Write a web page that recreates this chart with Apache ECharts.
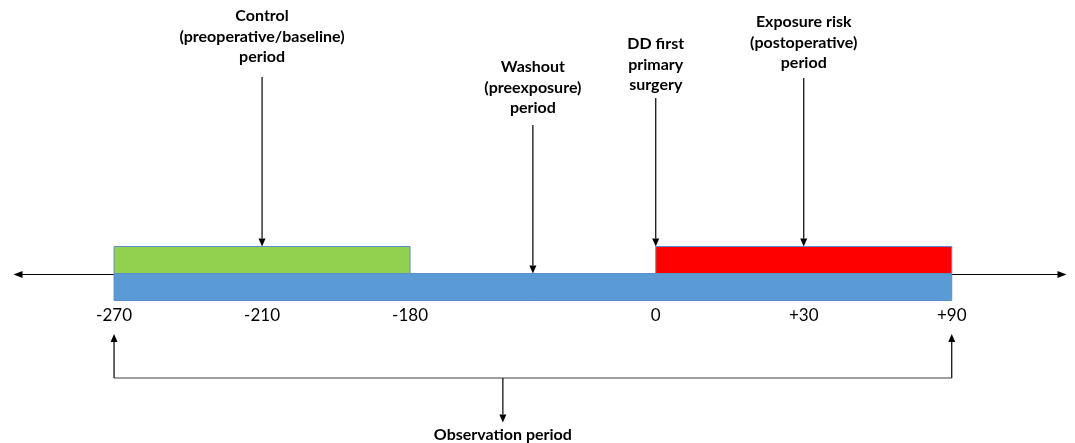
<!DOCTYPE html>
<html>
<head>
<meta charset="utf-8">
<script src="https://cdn.jsdelivr.net/npm/echarts@6/dist/echarts.min.js"></script>
<style>
  html, body { margin: 0; padding: 0; background: #fff; }
  #chart { width: 1075px; height: 443px; }
</style>
</head>
<body>
<div id="chart"></div>
<script>
// ---- Data ----
const tickDays = [-270, -210, -180, 0, 30, 90];
const tickLabels = ['-270', '-210', '-180', '0', '+30', '+90'];
// schematic (non-proportional) slot of each tick on the time line
const tickSlots = [0, 1, 2, 3.66, 4.66, 5.66];

const periodNames = ['Observation period', 'Control', 'Exposure risk'];
const periodStart = [-270, -270, 0];
const periodEnd = [90, -180, 90];
const periodRow = [0, 1, 1]; // 0 = on the time line, 1 = above it

const annotationTexts = [
  'Control\n(preoperative/baseline)\nperiod',
  'Washout\n(preexposure)\nperiod',
  'DD first\nprimary\nsurgery',
  'Exposure risk\n(postoperative)\nperiod'
];
const annotationDays = [-210, -90, 0, 30];
const annotationTargetRow = [1, 0, 1, 1];

const observationLabel = 'Observation period';
const observationLabelDay = -112;

// ---- Styles / layout ----
const periodColors = ['#5B9BD5', '#92D050', '#FF0000'];
const periodBorder = '#5B8FC9';
const annotationTextTop = [6, 57, 34, 12];
const annotationArrowTop = [77, 125, 98, 78];
const ROW_H = 27;
const FONT = 'Lato, "Open Sans", sans-serif';

function toSlot(day) {
  for (let i = 0; i < tickDays.length - 1; i++) {
    if (day <= tickDays[i + 1]) {
      const t = (day - tickDays[i]) / (tickDays[i + 1] - tickDays[i]);
      return tickSlots[i] + t * (tickSlots[i + 1] - tickSlots[i]);
    }
  }
  return tickSlots[tickSlots.length - 1];
}

function arrow(x1, y1, x2, y2, color) {
  const len = Math.hypot(x2 - x1, y2 - y1);
  const dx = (x2 - x1) / len, dy = (y2 - y1) / len;
  const nx = -dy, ny = dx;
  const hl = 8, hw = 3.5;
  const bx = x2 - dx * hl, by = y2 - dy * hl;
  return [
    { type: 'line', shape: { x1: x1, y1: y1, x2: bx, y2: by }, style: { stroke: color, lineWidth: 1.2 } },
    { type: 'polygon', shape: { points: [[x2, y2], [bx + nx * hw, by + ny * hw], [bx - nx * hw, by - ny * hw]] }, style: { fill: color } }
  ];
}

const chart = echarts.init(document.getElementById('chart'));

const option = {
  backgroundColor: '#ffffff',
  animation: false,
  grid: { left: 18, right: 13, top: 0, bottom: 168.5 },
  xAxis: {
    type: 'value',
    min: -0.649,
    max: 6.405,
    splitLine: { show: false },
    axisLine: {
      show: true,
      onZero: false,
      symbol: ['triangle', 'triangle'],
      symbolSize: [7, 9],
      lineStyle: { color: '#000', width: 1 }
    },
    axisTick: { show: false },
    axisLabel: {
      customValues: tickSlots,
      margin: 33,
      color: '#000',
      fontSize: 17,
      fontFamily: FONT,
      formatter: function (v) {
        const i = tickSlots.findIndex(s => Math.abs(s - v) < 1e-6);
        return i >= 0 ? tickLabels[i] : '';
      }
    }
  },
  yAxis: { type: 'value', min: 0, max: 10, show: false },
  series: [
    {
      type: 'custom',
      name: 'Periods',
      clip: false,
      z: 3,
      data: periodStart.map((s, i) => [toSlot(s), toSlot(periodEnd[i]), i]),
      encode: { x: [0, 1] },
      renderItem: function (params, api) {
        const i = api.value(2);
        const p0 = api.coord([api.value(0), 0]);
        const p1 = api.coord([api.value(1), 0]);
        const base = p0[1];
        const row = periodRow[i];
        const top = row === 0 ? base - 1 : base - 1 - ROW_H;
        return {
          type: 'rect',
          shape: { x: p0[0], y: top, width: p1[0] - p0[0], height: ROW_H },
          style: { fill: periodColors[i], stroke: periodBorder, lineWidth: 1 }
        };
      }
    },
    {
      type: 'custom',
      name: 'Annotations',
      clip: false,
      z: 4,
      data: annotationDays.map((d, i) => [toSlot(d), i]),
      encode: { x: 0 },
      renderItem: function (params, api) {
        const i = api.value(1);
        const p = api.coord([api.value(0), 0]);
        const base = p[1];
        const target = annotationTargetRow[i] === 0 ? base - 1 : base - 1 - ROW_H;
        const children = [{
          type: 'text',
          style: {
            text: annotationTexts[i],
            x: p[0], y: annotationTextTop[i],
            align: 'center', verticalAlign: 'top',
            fontSize: 16, fontWeight: 'bold', fontFamily: FONT,
            lineHeight: 20.5, fill: '#000'
          }
        }].concat(arrow(p[0], annotationArrowTop[i], p[0], target, '#000'));
        return { type: 'group', children: children };
      }
    },
    {
      type: 'custom',
      name: 'Observation',
      clip: false,
      z: 4,
      data: [[toSlot(periodStart[0]), toSlot(periodEnd[0]), toSlot(observationLabelDay)]],
      encode: { x: [0, 1, 2] },
      renderItem: function (params, api) {
        const a = api.coord([api.value(0), 0]);
        const b = api.coord([api.value(1), 0]);
        const c = api.coord([api.value(2), 0]);
        const base = a[1];
        const yBar = base + 103.5;
        const yTip = base + 59.5;
        const col = '#404040';
        const children = []
          .concat(arrow(a[0], yBar, a[0], yTip, '#000'))
          .concat(arrow(b[0], yBar, b[0], yTip, '#000'))
          .concat([{ type: 'line', shape: { x1: a[0], y1: yBar, x2: b[0], y2: yBar }, style: { stroke: col, lineWidth: 1.2 } }])
          .concat(arrow(c[0], yBar, c[0], base + 148, '#000'))
          .concat([{
            type: 'text',
            style: {
              text: observationLabel,
              x: c[0], y: base + 160,
              align: 'center', verticalAlign: 'middle',
              fontSize: 16, fontWeight: 'bold', fontFamily: FONT, fill: '#000'
            }
          }]);
        return { type: 'group', children: children };
      }
    }
  ]
};

chart.setOption(option);
</script>
</body>
</html>
